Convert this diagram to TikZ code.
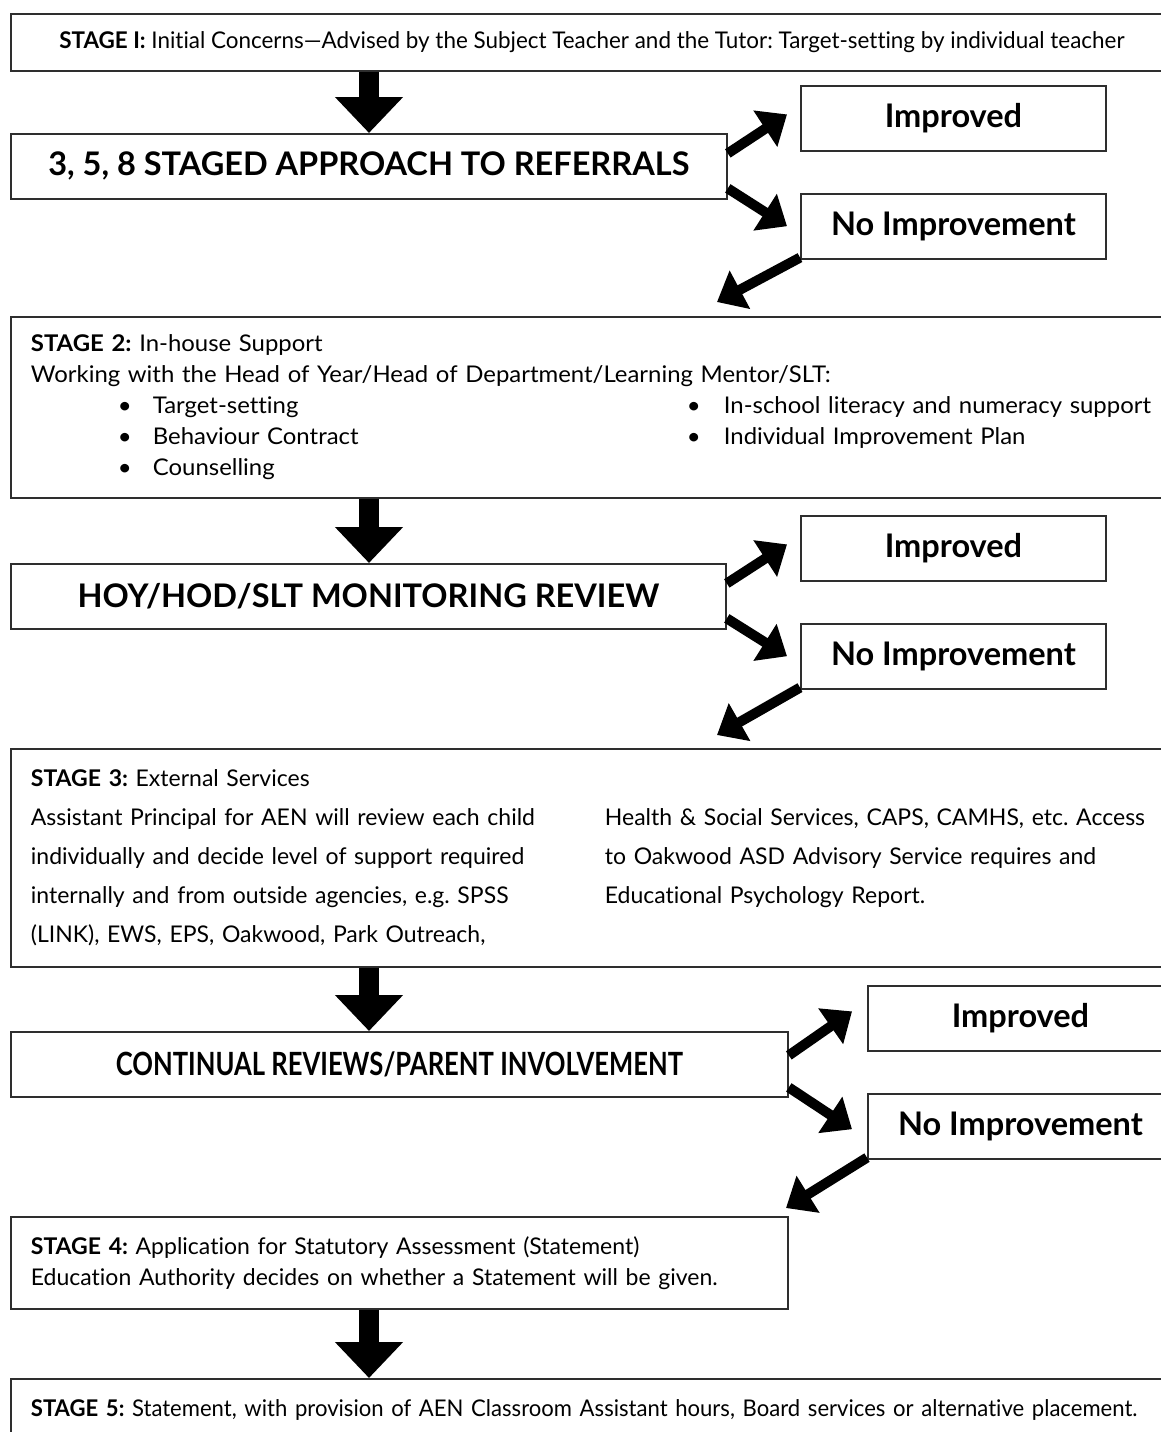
\documentclass[tikz,border=0pt]{standalone}
\usepackage{fontspec}
\setmainfont{Lato}[Ligatures={TeX,NoCommon}]
\newfontfamily\narrowfont[FakeStretch=0.975,Ligatures=NoCommon]{Lato}
\newfontfamily\slimfont[FakeStretch=0.96,Ligatures=NoCommon]{Lato}
\newfontfamily\widefont[FakeStretch=1.04,Ligatures=NoCommon]{Lato}
\newfontfamily\condfont[FakeStretch=0.80,Ligatures=NoCommon]{Lato}
\usetikzlibrary{positioning,arrows.meta,calc}
\definecolor{edge}{HTML}{2E2E2E}
\newcommand{\blt}[1]{\makebox[#1][l]{•}}
\frenchspacing
\tikzset{
  stagebox/.style={rectangle, draw=edge, line width=1.8pt, anchor=north west,
                   inner xsep=20pt, align=left, font=\fontsize{23}{31}\selectfont},
  headbox/.style={rectangle, draw=edge, line width=1.8pt, anchor=north west,
                  minimum height=65pt, font=\bfseries\fontsize{32.5}{36}\selectfont},
  resbox/.style={rectangle, draw=edge, line width=1.8pt, anchor=north west,
                 minimum width=305pt, minimum height=65pt,
                 font=\bfseries\fontsize{32.5}{36}\selectfont},
  down/.style={-{Triangle[length=36pt,width=66pt]}, line width=20pt},
  diag/.style={-{Triangle[length=26pt,width=42pt]}, line width=10pt}
}

\begin{document}
\begin{tikzpicture}[x=1pt, y=-1pt]
\useasboundingbox (0,0) rectangle (1161,1432);
\coordinate (col) at (369,0);

% stage 1 and first review
\node[stagebox, minimum width=1162pt, minimum height=57pt, align=center,
      font=\narrowfont\fontsize{23}{27}\selectfont] (s1) at (10,13)
  {\textbf{STAGE I:} Initial Concerns—Advised by the Subject Teacher and the Tutor: Target-setting by individual teacher};
\node[headbox, minimum width=716pt] (r1) at (10,133) {3, 5, 8 STAGED APPROACH TO REFERRALS};
\node[resbox] (imp1) at (800,85) {Improved};
\node[resbox, below=41pt of imp1] (nimp1) {No Improvement};
\coordinate (back1) at (717,302);

% stage 2 and second review
\node[stagebox, minimum width=1165pt, minimum height=181pt, text width=1125pt,
      font=\widefont\fontsize{23}{31}\selectfont] (s2) at (10,316)
  {\textbf{STAGE 2:} In-house Support\\
   Working with the Head of Year/Head of Department/Learning Mentor/SLT:\\
   \hspace*{87pt}\blt{35pt}\makebox[534pt][l]{Target-setting}\blt{37pt}In-school literacy and numeracy support\\
   \hspace*{87pt}\blt{35pt}\makebox[534pt][l]{Behaviour Contract}\blt{37pt}Individual Improvement Plan\\
   \hspace*{87pt}\blt{35pt}Counselling};
\node[headbox, minimum width=715pt] (r2) at (10,563) {HOY/HOD/SLT MONITORING REVIEW};
\node[resbox] (imp2) at (800,515) {Improved};
\node[resbox, below=41pt of imp2] (nimp2) {No Improvement};
\coordinate (back2) at (717,735);

% stage 3 and continual reviews
\node[stagebox, minimum width=1165pt, minimum height=218pt, text width=1125pt,
      font=\fontsize{23}{39}\selectfont] (s3) at (10,748)
  {\textbf{STAGE 3:} External Services\\
   \parbox[t]{574pt}{Assistant Principal for AEN will review each child\\
     individually and decide level of support required\\
     internally and from outside agencies, e.g. SPSS\\
     (LINK), EWS, EPS, Oakwood, Park Outreach,}%
   \parbox[t]{551pt}{Health \& Social Services, CAPS, CAMHS, etc. Access\\
     to Oakwood ASD Advisory Service requires and\\
     Educational Psychology Report.}};
\node[headbox, minimum width=777pt, font=\condfont\bfseries\fontsize{32}{36}\selectfont] (r3) at (10,1031)
  {CONTINUAL REVIEWS/PARENT INVOLVEMENT};
\node[resbox] (imp3) at (867,985) {Improved};
\node[resbox, below=41pt of imp3] (nimp3) {No Improvement};
\coordinate (back3) at (786,1208);

% stages 4 and 5
\node[stagebox, minimum width=777pt, minimum height=92pt, text width=737pt] (s4) at (10,1216)
  {\textbf{STAGE 4:} Application for Statutory Assessment (Statement)\\
   Education Authority decides on whether a Statement will be given.};
\node[stagebox, minimum width=1165pt, minimum height=62pt, text width=1125pt,
      font=\slimfont\fontsize{23}{27}\selectfont] (s5) at (10,1378)
  {\textbf{STAGE 5:} Statement, with provision of AEN Classroom Assistant hours, Board services or alternative placement.};

% arrows down the middle
\draw[down] (s1.south -| col) -- (r1.north -| col);
\draw[down] (s2.south -| col) -- (r2.north -| col);
\draw[down] (s3.south -| col) -- (r3.north -| col);
\draw[down] (s4.south -| col) -- (s5.north -| col);

% branches
\draw[diag] ([yshift=13pt]r1.east) -- ([xshift=-13pt,yshift=4pt]imp1.west);
\draw[diag] ([yshift=-22pt]r1.east) -- ([xshift=-13pt]nimp1.west);
\draw[diag] ([yshift=2pt]nimp1.south west) -- (back1);
\draw[diag] ([yshift=13pt]r2.east) -- ([xshift=-13pt,yshift=4pt]imp2.west);
\draw[diag] ([yshift=-22pt]r2.east) -- ([xshift=-13pt]nimp2.west);
\draw[diag] ([yshift=2pt]nimp2.south west) -- (back2);
\draw[diag] ([yshift=9pt]r3.east) -- ([xshift=-15pt,yshift=7pt]imp3.west);
\draw[diag] ([yshift=-23pt]r3.east) -- ([xshift=-15pt,yshift=-3pt]nimp3.west);
\draw[diag] ([yshift=2pt]nimp3.south west) -- (back3);
\end{tikzpicture}
\end{document}
